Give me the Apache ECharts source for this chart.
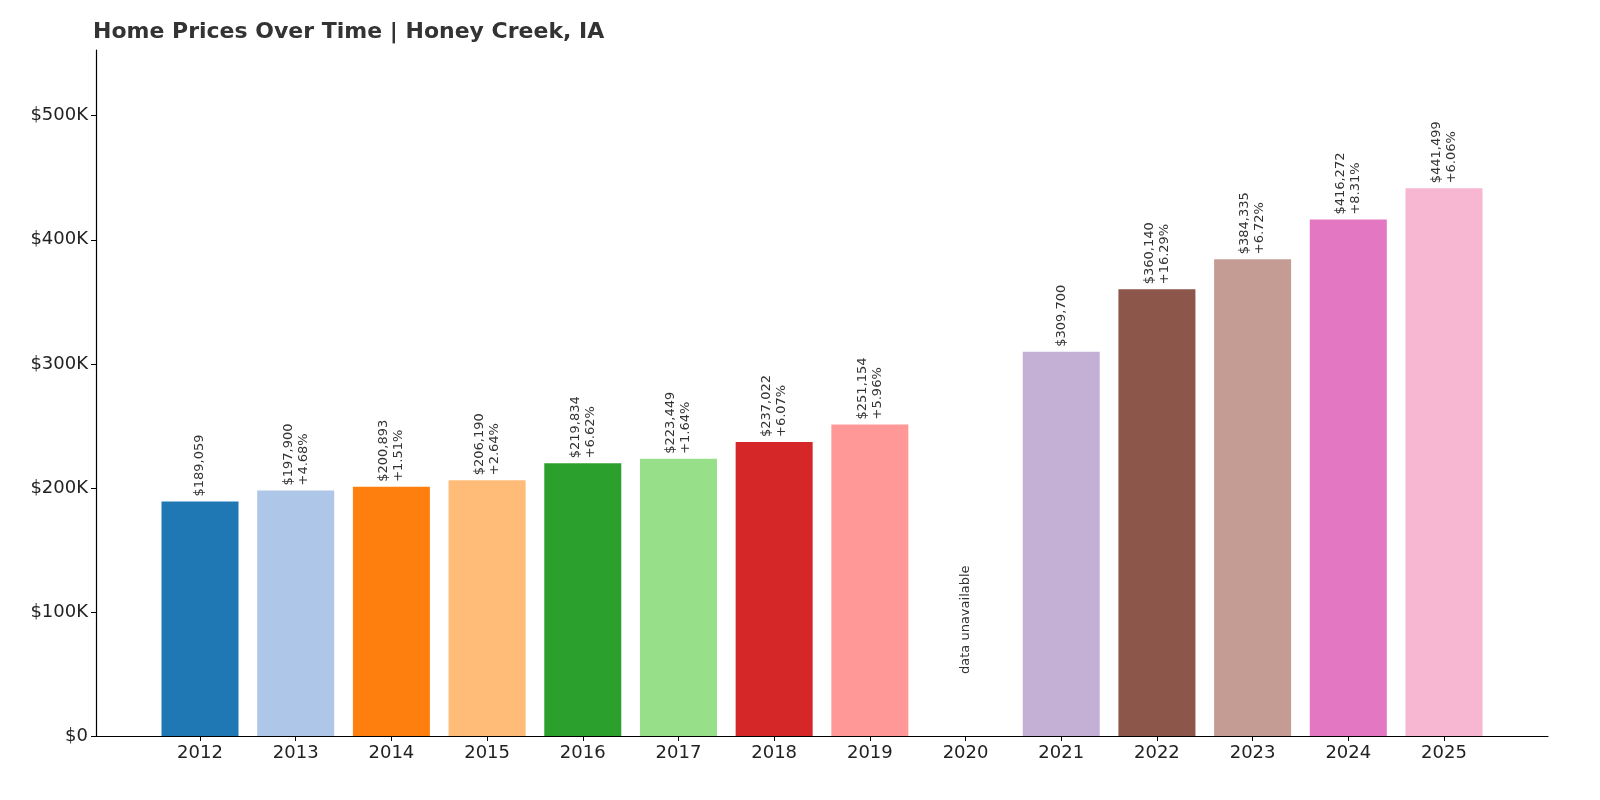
<!DOCTYPE html>
<html><head><meta charset="utf-8">
<script src="https://cdn.jsdelivr.net/npm/echarts@6/dist/echarts.min.js"></script>
<style>html,body{margin:0;padding:0;background:#fff}#c{width:1600px;height:800px}</style>
</head><body><div id="c"></div>
<script>
const years=[2012,2013,2014,2015,2016,2017,2018,2019,2020,2021,2022,2023,2024,2025];
const values=[189059,197900,200893,206190,219834,223449,237022,251154,null,309700,360140,384335,416272,441499];
const changes=[null,'+4.68%','+1.51%','+2.64%','+6.62%','+1.64%','+6.07%','+5.96%',null,null,'+16.29%','+6.72%','+8.31%','+6.06%'];
const colors=['#1f77b4','#aec7e8','#ff7f0e','#ffbb78','#2ca02c','#98df8a','#d62728','#ff9896','#9467bd','#c5b0d5','#8c564b','#c49c94','#e377c2','#f7b6d2'];
const fmt=v=>'$'+v.toLocaleString('en-US');
const data=years.map((y,i)=>{
  if(values[i]==null){
    return {value:[y,0],itemStyle:{color:'transparent'},label:{show:true,formatter:'data unavailable',distance:62,fontSize:13}};
  }
  return {value:[y,values[i]],itemStyle:{color:colors[i]},
    label:{formatter:changes[i]?fmt(values[i])+'\n'+changes[i]:fmt(values[i])}};
});
const chart=echarts.init(document.getElementById('c'));
chart.setOption({
  animation:false,
  title:{text:'Home Prices Over Time | Honey Creek, IA',left:88,top:16,textStyle:{fontFamily:'DejaVu Sans',fontSize:22,fontWeight:'bold',color:'#333'}},
  grid:{left:96,right:52,top:50,bottom:64},
  xAxis:{type:'value',min:2010.913,max:2026.087,splitLine:{show:false},
    axisLine:{show:true,lineStyle:{color:'#000',width:1.2}},
    axisTick:{show:true,customValues:years,length:5,lineStyle:{color:'#000'}},
    axisLabel:{customValues:years,formatter:v=>String(Math.round(v)),fontFamily:'DejaVu Sans',fontSize:18,color:'#222',margin:8}},
  yAxis:{type:'value',min:0,max:553000,interval:100000,splitLine:{show:false},
    axisLine:{show:true,lineStyle:{color:'#000',width:1.2}},
    axisTick:{show:true,length:5,lineStyle:{color:'#000'}},
    axisLabel:{formatter:v=>v>553000?'':(v===0?'$0':'$'+(v/1000)+'K'),fontFamily:'DejaVu Sans',fontSize:18,color:'#222',margin:8,showMaxLabel:false}},
  series:[{type:'bar',barWidth:77,data:data,
    label:{show:true,position:'top',rotate:90,align:'left',verticalAlign:'middle',distance:5,fontFamily:'DejaVu Sans',fontSize:13,color:'#333',lineHeight:15}}]
});
</script></body></html>
